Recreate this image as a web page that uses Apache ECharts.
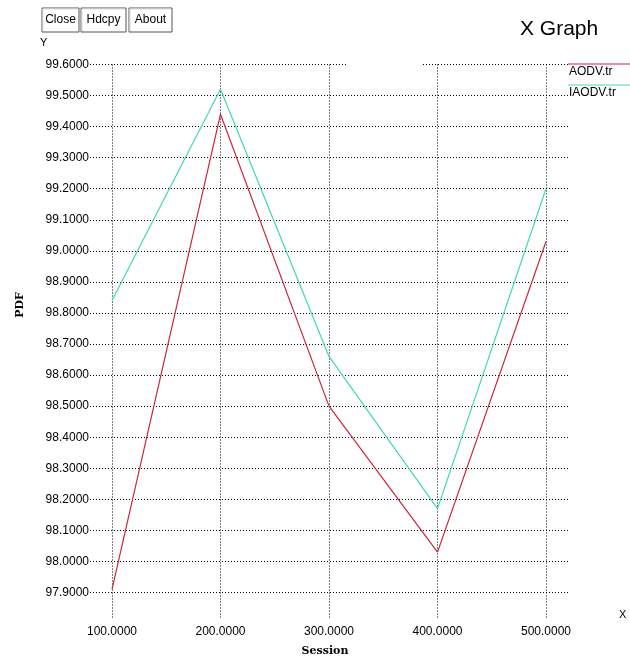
<!DOCTYPE html>
<html>
<head>
<meta charset="utf-8">
<script src="https://cdn.jsdelivr.net/npm/echarts@6/dist/echarts.min.js"></script>
<style>html,body{margin:0;padding:0;background:#fff;}#c{width:630px;height:659px;}</style>
</head>
<body>
<div id="c"></div>
<script>
var sessions = [100, 200, 300, 400, 500];
var aodv = [97.91, 99.44, 98.50, 98.03, 99.03];
var iaodv = [98.84, 99.52, 98.66, 98.17, 99.20];
var seriesNames = ['AODV.tr', 'IAODV.tr'];
var seriesColors = ['#c8283a', '#44d8b0'];
var yMin = 97.9, yMax = 99.6, yStep = 0.1;
var xMin = 100, xMax = 500, xStep = 100;

var W = 630, H = 659;
var plotTop = 64.5, yBottomPx = 592.5, xBottomPx = 618;
var gridALeft = 90, gridARight = 569;
var xLeftPx = 112, xRightPx = 546;
var pxPerUnit = (yBottomPx - plotTop) / (yMax - yMin);
var yMinB = yMin - (xBottomPx - yBottomPx) / pxPerUnit;

var dotted = {color: '#000', width: 1, type: [1, 2]};
var chart = echarts.init(document.getElementById('c'));
var fontSans = 'Liberation Sans, Arial, sans-serif';

function pairs(v) { return sessions.map(function (s, i) { return [s, v[i]]; }); }

function button(x, y, w, h, label) {
  return {
    type: 'group', children: [
      {type: 'rect', shape: {x: x, y: y, width: w, height: h}, style: {fill: '#fff', stroke: '#555', lineWidth: 1}},
      {type: 'polyline', shape: {points: [[x + 1, y + h - 1], [x + 1, y + 1], [x + w - 1, y + 1]]}, style: {stroke: '#ddd', fill: null, lineWidth: 1}},
      {type: 'text', x: x + w / 2, y: y + h / 2, style: {text: label, fill: '#000', font: '12px ' + fontSans, textAlign: 'center', textVerticalAlign: 'middle'}}
    ]
  };
}

chart.setOption({
  animation: false,
  grid: [
    {left: gridALeft, right: W - gridARight, top: plotTop, bottom: H - yBottomPx, containLabel: false},
    {left: xLeftPx, right: W - xRightPx, top: plotTop, bottom: H - xBottomPx, containLabel: false}
  ],
  xAxis: [
    {gridIndex: 0, type: 'value', min: 0, max: 1, show: false},
    {gridIndex: 1, type: 'value', min: xMin, max: xMax, interval: xStep,
      axisLine: {show: false}, axisTick: {show: false},
      splitLine: {show: true, lineStyle: dotted},
      axisLabel: {formatter: function (v) { return v.toFixed(4); }, color: '#000', fontSize: 12, fontFamily: fontSans, margin: 8}}
  ],
  yAxis: [
    {gridIndex: 0, type: 'value', min: yMin, max: yMax, interval: yStep,
      axisLine: {show: false}, axisTick: {show: false},
      splitLine: {show: true, lineStyle: dotted},
      axisLabel: {formatter: function (v) { return v.toFixed(4); }, color: '#000', fontSize: 12, fontFamily: fontSans, margin: 1}},
    {gridIndex: 1, type: 'value', min: yMinB, max: yMax, show: false, splitLine: {show: false}}
  ],
  series: [
    {name: seriesNames[0], type: 'line', xAxisIndex: 1, yAxisIndex: 1, data: pairs(aodv), symbol: 'none',
      lineStyle: {color: seriesColors[0], width: 1.2}, z: 5},
    {name: seriesNames[1], type: 'line', xAxisIndex: 1, yAxisIndex: 1, data: pairs(iaodv), symbol: 'none',
      lineStyle: {color: seriesColors[1], width: 1.2}, z: 5}
  ],
  graphic: [
    {type: 'rect', shape: {x: 347, y: 62, width: 75, height: 5}, style: {fill: '#fff'}, z: 10},
    button(42, 8, 37, 24, 'Close'),
    button(81, 8, 45, 24, 'Hdcpy'),
    button(129, 8, 43, 24, 'About'),
    {type: 'text', x: 520, y: 29, style: {text: 'X Graph', fill: '#000', font: '21px ' + fontSans, textVerticalAlign: 'middle'}},
    {type: 'text', x: 40, y: 43, style: {text: 'Y', fill: '#000', font: '11px ' + fontSans, textVerticalAlign: 'middle'}},
    {type: 'text', x: 619, y: 615, style: {text: 'X', fill: '#000', font: '11px ' + fontSans, textVerticalAlign: 'middle'}},
    {type: 'text', x: 20, y: 305, rotation: Math.PI / 2, style: {text: 'PDF', fill: '#000', font: 'bold 11px DejaVu Serif, serif', textAlign: 'center', textVerticalAlign: 'middle'}},
    {type: 'text', x: 325, y: 651, style: {text: 'Session', fill: '#000', font: 'bold 11px DejaVu Serif, serif', textAlign: 'center', textVerticalAlign: 'middle'}},
    {type: 'line', shape: {x1: 568, y1: 64, x2: 630, y2: 64}, style: {stroke: seriesColors[0], lineWidth: 1}, z: 10},
    {type: 'text', x: 569, y: 72, style: {text: seriesNames[0], fill: '#000', font: '12px ' + fontSans, textVerticalAlign: 'middle'}, z: 10},
    {type: 'line', shape: {x1: 568, y1: 85, x2: 630, y2: 85}, style: {stroke: seriesColors[1], lineWidth: 1}, z: 10},
    {type: 'text', x: 569, y: 93, style: {text: seriesNames[1], fill: '#000', font: '12px ' + fontSans, textVerticalAlign: 'middle'}, z: 10}
  ]
});
</script>
</body>
</html>
